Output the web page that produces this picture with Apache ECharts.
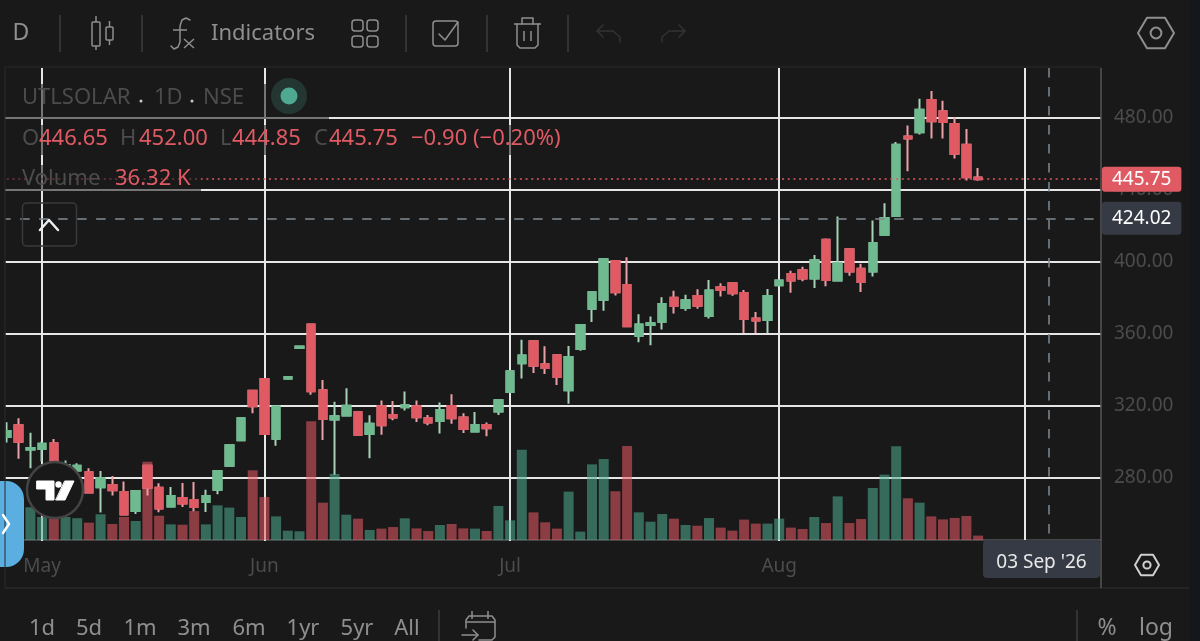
<!DOCTYPE html>
<html>
<head>
    <meta charset="utf-8">
    <title>UTLSOLAR</title>
    <script type="text/javascript" src="https://cdn.jsdelivr.net/npm/echarts@6/dist/echarts.min.js"></script>
    <style>
        html, body { margin: 0; padding: 0; background: #191919; }
    </style>
</head>
<body>

<div id="main" style="width: 1200px;height:641px;"></div>
<script type="text/javascript">
    // trading days, the last ten are the empty space right of the last candle
    var dates = [
        '04-28', '04-29', '04-30',
        '05-04', '05-05', '05-06', '05-07', '05-08', '05-11', '05-12', '05-13', '05-14', '05-15',
        '05-18', '05-19', '05-20', '05-21', '05-22', '05-25', '05-26', '05-28', '05-29',
        '06-01', '06-02', '06-03', '06-04', '06-05', '06-08', '06-09', '06-10', '06-11', '06-12',
        '06-15', '06-16', '06-17', '06-18', '06-19', '06-22', '06-23', '06-24', '06-25', '06-29', '06-30',
        '07-01', '07-02', '07-03', '07-06', '07-07', '07-08', '07-09', '07-10', '07-13', '07-14', '07-15', '07-16', '07-17',
        '07-20', '07-21', '07-22', '07-23', '07-24', '07-27', '07-28', '07-29', '07-30', '07-31',
        '08-03', '08-04', '08-05', '08-06', '08-07', '08-10', '08-11', '08-12', '08-13', '08-14',
        '08-17', '08-18', '08-19', '08-20', '08-21', '08-24', '08-25', '08-26', '08-27', '08-28', '08-31',
        '09-01', '09-02', '09-03', '09-04', '09-07', '09-08', '09-09'
    ];

    var opens = [
        302.7, 309.2, 295.7, 296.1, 299.2, 280.7, 284.1, 283.2, 274.8, 276.1,
        272.2, 261.7, 286.8, 274.6, 264.1, 268.9, 267.8, 266.7, 273.5, 286.8,
        300.9, 328.3, 334.9, 301.8, 335.1, 352.1, 365.1, 328.6, 312.4, 314.6,
        316.4, 304.4, 319.8, 314.9, 319.2, 319.8, 313.1, 311.6, 319.9, 313.5,
        305.7, 309.4, 316.8, 327.7, 343.6, 355.8, 343.1, 348.0, 328.6, 351.6,
        373.8, 378.9, 400.4, 387.1, 358.8, 364.9, 366.7, 380.0, 374.3, 381.0,
        369.9, 385.8, 388.0, 382.6, 368.4, 367.6, 386.9, 393.2, 395.2, 390.6,
        412.2, 389.5, 406.9, 396.1, 394.6, 415.0, 425.3, 469.4, 471.8, 489.7,
        483.4, 476.4, 464.9, 446.65
    ];
    var closes = [
        306.1, 300.0, 296.6, 298.9, 288.1, 287.2, 286.7, 271.9, 279.8, 273.2,
        259.7, 272.8, 274.5, 263.0, 270.0, 265.8, 263.9, 270.0, 283.9, 298.1,
        313.1, 319.8, 304.4, 319.6, 336.0, 352.9, 328.1, 312.7, 314.2, 320.1,
        304.0, 310.0, 309.2, 313.5, 320.3, 313.6, 310.7, 317.7, 313.1, 307.2,
        309.4, 307.5, 323.1, 339.2, 347.9, 342.3, 341.0, 336.0, 347.1, 364.9,
        383.0, 401.3, 383.0, 364.1, 365.1, 365.8, 376.5, 375.4, 378.6, 375.6,
        384.0, 384.3, 382.4, 368.2, 367.3, 381.0, 389.5, 389.5, 390.6, 400.8,
        389.8, 399.1, 394.5, 388.7, 410.4, 424.2, 464.9, 468.4, 484.3, 477.9,
        477.5, 459.9, 446.8, 445.75
    ];
    var lows = [
        299.6, 290.7, 285.4, 289.1, 286.3, 278.9, 280.7, 271.5, 260.8, 270.2,
        259.5, 260.0, 270.2, 261.0, 263.7, 263.9, 261.5, 261.1, 270.9, 286.8,
        300.9, 315.9, 304.4, 297.8, 335.1, 352.1, 326.2, 301.1, 281.7, 314.6,
        304.0, 290.9, 304.0, 312.0, 317.4, 311.0, 309.2, 304.6, 310.0, 304.9,
        305.7, 303.1, 314.9, 327.7, 335.1, 338.2, 337.7, 331.6, 321.2, 350.6,
        366.5, 372.8, 381.2, 364.1, 355.3, 353.6, 362.3, 371.3, 372.8, 373.8,
        368.4, 380.6, 381.1, 360.4, 360.4, 360.4, 386.9, 382.8, 389.1, 385.4,
        386.3, 389.1, 392.2, 383.2, 391.7, 415.0, 425.3, 450.1, 470.5, 468.4,
        468.4, 457.2, 445.0, 444.85
    ];
    var highs = [
        310.9, 313.1, 305.0, 300.2, 301.6, 289.6, 288.2, 285.4, 283.9, 281.1,
        278.0, 273.0, 287.0, 277.0, 275.0, 277.2, 277.8, 273.4, 283.9, 298.1,
        313.1, 328.3, 334.9, 319.6, 336.0, 352.9, 365.1, 334.4, 322.2, 329.7,
        316.4, 314.8, 322.9, 322.7, 327.9, 322.9, 314.9, 321.8, 326.4, 315.9,
        316.6, 310.7, 323.1, 339.2, 356.6, 355.8, 353.0, 348.0, 353.2, 364.9,
        383.0, 401.9, 400.4, 402.4, 370.8, 369.5, 380.2, 383.9, 381.7, 384.7,
        389.8, 388.0, 388.0, 384.3, 372.1, 384.8, 389.5, 395.0, 397.2, 403.7,
        412.8, 425.0, 406.9, 398.9, 422.8, 432.4, 466.4, 475.5, 490.4, 494.7,
        489.3, 480.1, 473.6, 452.0
    ];
    // volume in thousands
    var volumes = [
        150, 200, 270, 190, 180, 190, 180, 143, 212, 132,
        190, 157, 646, 200, 129, 126, 239, 129, 286, 267,
        190, 575, 355, 195, 77, 72, 979, 308, 545, 209,
        176, 83, 94, 107, 179, 96, 74, 124, 132, 96,
        94, 74, 281, 162, 745, 228, 146, 94, 399, 69,
        624, 668, 402, 776, 228, 151, 214, 176, 124, 118,
        181, 102, 77, 168, 135, 135, 176, 102, 91, 190,
        140, 360, 140, 173, 429, 539, 773, 344, 308, 195,
        170, 182, 198, 36.32
    ];

    var monthTicks = { '05-04': 'May', '06-01': 'Jun', '07-01': 'Jul', '08-03': 'Aug' };
    var verticalLines = ['05-04', '06-01', '07-01', '08-03', '09-01'];
    var crosshairDate = '09-03';
    var lastPrice = 445.75;
    var crosshairPrice = 424.02;
    var ranges = ['1d', '5d', '1m', '3m', '6m', '1yr', '5yr', 'All'];
    var rangeX = [42, 89, 140, 194, 249, 303, 357, 407];

    var bg = '#191919';
    var upColor = '#6fba8f';
    var downColor = '#e05a64';
    var upWick = '#a6d2b8';
    var downWick = '#eba0a6';
    var dimText = '#4c4c4c';
    var toolText = '#8f8f8f';
    var tagColor = '#363a45';
    var font = '"Noto Sans", sans-serif';

    // wicks and bodies are two layers so the wick can be paler than the body
    var wicks = opens.map(function (o, i) {
        return [o, closes[i], lows[i], highs[i]];
    });
    var bodies = opens.map(function (o, i) {
        return [o, closes[i], Math.min(o, closes[i]), Math.max(o, closes[i])];
    });
    var volumeBars = volumes.map(function (v, i) {
        return {
            value: v,
            itemStyle: { color: closes[i] >= opens[i] ? 'rgba(78,173,146,0.55)' : 'rgba(233,91,102,0.55)' }
        };
    });
    var verticalMarks = verticalLines.map(function (d) {
        return [{ xAxis: d, yAxis: 507.5 }, { xAxis: d, yAxis: 245 }];
    });

    function text(x, y, str, color, size, align) {
        return {
            type: 'text', x: x, y: y + 1.5, z: 30,
            style: {
                text: str, fill: color, fontSize: size, fontFamily: font,
                align: align || 'left', verticalAlign: 'middle'
            }
        };
    }
    function rect(x, y, w, h, fill, r, stroke) {
        return {
            type: 'rect', z: 20,
            shape: { x: x, y: y, width: w, height: h, r: r || 0 },
            style: { fill: fill, stroke: stroke || null, lineWidth: stroke ? 1.5 : 0 }
        };
    }
    function line(x1, y1, x2, y2, color, width) {
        return {
            type: 'line', z: 25,
            shape: { x1: x1, y1: y1, x2: x2, y2: y2 },
            style: { stroke: color, lineWidth: width || 1.5 }
        };
    }
    function poly(points, color, closed, width, fill) {
        return {
            type: closed ? 'polygon' : 'polyline', z: 25,
            shape: { points: points },
            style: { stroke: color, lineWidth: width || 1.5, fill: fill || null, lineJoin: 'round', lineCap: 'round' }
        };
    }
    function hexagon(cx, cy, r, color) {
        return [
            poly([[cx - r, cy], [cx - r / 2, cy - r * 0.85], [cx + r / 2, cy - r * 0.85],
                [cx + r, cy], [cx + r / 2, cy + r * 0.85], [cx - r / 2, cy + r * 0.85]], color, true, 2),
            { type: 'circle', z: 25, shape: { cx: cx, cy: cy, r: r * 0.3 }, style: { fill: null, stroke: color, lineWidth: 2 } }
        ];
    }

    var chrome = [
        // mask and frame
        rect(0, 60, 5.5, 530, bg),
        rect(1189, 0, 11, 641, '#14171c'),
        line(5, 67, 1101, 67, '#2a2a2a', 1),
        line(5, 67, 5, 588, '#2a2a2a', 1),
        line(5, 588, 1189, 588, '#303030', 1),
        line(1101, 68, 1101, 588, '#555555', 1.5),

        // dark backing behind the legend rows
        rect(6, 84, 323, 35, 'rgba(25,25,25,0.55)'),
        rect(6, 125, 560, 30, 'rgba(25,25,25,0.55)'),
        rect(6, 165, 195, 26, 'rgba(25,25,25,0.55)'),

        // top toolbar
        text(21, 32, 'D', toolText, 23, 'center'),
        line(60, 15, 60, 52, '#3c3c3c'),
        line(142, 15, 142, 52, '#3c3c3c'),
        line(406, 15, 406, 52, '#3c3c3c'),
        line(487, 15, 487, 52, '#3c3c3c'),
        line(568, 15, 568, 52, '#3c3c3c'),
        rect(92, 22, 8, 24, null, 1, toolText),
        line(96, 16, 96, 22, toolText),
        line(96, 46, 96, 50, toolText),
        rect(106, 27, 7, 13, null, 1, toolText),
        line(109.5, 21, 109.5, 27, toolText),
        line(109.5, 40, 109.5, 45, toolText),
        // fx glyph
        poly([[190, 20], [186, 18], [182, 20], [180, 26], [180, 42], [178, 47], [174, 49], [171, 46]], toolText),
        line(173, 30, 187, 30, toolText),
        line(184, 39, 194, 48, toolText),
        line(194, 39, 184, 48, toolText),
        text(211, 32, 'Indicators', toolText, 22),
        rect(352, 20, 11, 11, null, 3, toolText),
        rect(367, 20, 11, 11, null, 3, toolText),
        rect(352, 36, 11, 11, null, 3, toolText),
        rect(367, 36, 11, 11, null, 3, toolText),
        rect(433, 21, 25, 25, null, 3, toolText),
        poly([[439, 34], [445, 40], [458, 22]], toolText),
        line(514, 24, 541, 24, toolText),
        poly([[522, 24], [522, 18], [533, 18], [533, 24]], toolText),
        poly([[517, 24], [517, 45], [520, 48], [535, 48], [538, 45], [538, 24]], toolText),
        line(524, 31, 524, 41, toolText),
        line(531, 31, 531, 41, toolText),
        poly([[603, 25], [597, 31], [603, 37]], '#333333'),
        poly([[597, 31], [613, 31], [620, 37], [620, 42]], '#333333'),
        poly([[679, 25], [685, 31], [679, 37]], '#333333'),
        poly([[685, 31], [669, 31], [662, 37], [662, 42]], '#333333')
    ].concat(hexagon(1156, 33, 18, toolText), hexagon(1147, 565, 12, '#d0d0d0'), [

        // legend
        text(22, 96, 'UTLSOLAR', dimText, 22),
        { type: 'circle', z: 25, shape: { cx: 141, cy: 101, r: 1.5 }, style: { fill: '#cccccc' } },
        text(154, 96, '1D', dimText, 22),
        { type: 'circle', z: 25, shape: { cx: 192, cy: 101, r: 1.5 }, style: { fill: '#cccccc' } },
        text(203, 96, 'NSE', dimText, 22),
        { type: 'circle', z: 25, shape: { cx: 289, cy: 96, r: 18 }, style: { fill: 'rgba(79,168,146,0.2)' } },
        { type: 'circle', z: 26, shape: { cx: 289, cy: 96, r: 8.5 }, style: { fill: '#4fa892' } },
        text(22, 137, 'O', dimText, 22),
        text(39, 137, '446.65', downColor, 22),
        text(120, 137, 'H', dimText, 22),
        text(139, 137, '452.00', downColor, 22),
        text(220, 137, 'L', dimText, 22),
        text(232, 137, '444.85', downColor, 22),
        text(314, 137, 'C', dimText, 22),
        text(329, 137, '445.75', downColor, 22),
        text(411, 137, '\u22120.90 (\u22120.20%)', downColor, 22),
        text(22, 177, 'Volume', dimText, 22),
        text(115, 177, '36.32 K', downColor, 22),
        rect(22.5, 203, 54, 43, null, 4, '#3a3a3a'),
        poly([[40, 230], [49, 220], [58, 230]], '#eeeeee', false, 2.5),

        // logo and blue tab
        rect(0, 481, 24, 86, '#5aaee0', [0, 18, 18, 0]),
        poly([[3, 515], [9, 524], [3, 533]], '#ffffff', false, 2.5),
        { type: 'circle', z: 22, shape: { cx: 55, cy: 490, r: 28 }, style: { fill: bg, stroke: '#444444', lineWidth: 2.5 } },
        poly([[37, 481], [54, 481], [54, 500], [46, 500], [46, 489], [37, 489]], '#ffffff', true, 1, '#ffffff'),
        { type: 'circle', z: 25, shape: { cx: 58.5, cy: 484.5, r: 3.2 }, style: { fill: '#ffffff' } },
        poly([[65, 481], [74, 481], [65, 500], [56, 500]], '#ffffff', true, 1, '#ffffff'),

        // crosshair date tag
        rect(983, 540, 117, 38, tagColor, 4),
        text(1041.5, 561, "03 Sep '26", '#e8e8e8', 19, 'center'),

        // bottom bar
        line(439, 610, 439, 641, '#3c3c3c'),
        poly([[466, 628], [466, 620], [469, 616], [492, 616], [495, 620], [495, 637], [492, 640], [479, 640]], toolText),
        line(466, 622, 495, 622, toolText),
        line(472, 611, 472, 619, toolText),
        line(488, 611, 488, 619, toolText),
        poly([[462, 635], [478, 635]], toolText),
        poly([[473, 630], [478, 635], [473, 640]], toolText),
        line(1077, 610, 1077, 641, '#3c3c3c'),
        text(1107, 627, '%', toolText, 23, 'center'),
        text(1156, 627, 'log', toolText, 23, 'center')
    ]);
    ranges.forEach(function (r, i) {
        chrome.push(text(rangeX[i], 627, r, toolText, 22, 'center'));
    });

    var myChart = echarts.init(document.getElementById('main'), null, { renderer: 'canvas' });

    var option = {
        animation: false,
        backgroundColor: bg,
        textStyle: { fontFamily: font },
        graphic: chrome,
        grid: [
            { left: 1.15, width: 1099.8, top: 45.4, bottom: 91 },
            { left: 1.15, width: 1099.8, top: 420, bottom: 101 }
        ],
        xAxis: [
            {
                type: 'category', gridIndex: 0, data: dates,
                axisLine: { show: false }, axisTick: { show: false },
                axisLabel: { show: false }, splitLine: { show: false }
            },
            {
                type: 'category', gridIndex: 1, data: dates,
                axisLine: { show: true, lineStyle: { color: '#555555', width: 1.5 } },
                axisTick: { show: false },
                splitLine: { show: false },
                axisLabel: {
                    color: dimText, fontSize: 19, margin: 17, fontFamily: font,
                    interval: function (i, d) { return !!monthTicks[d]; },
                    formatter: function (d) { return monthTicks[d]; }
                }
            }
        ],
        yAxis: [
            {
                type: 'value', gridIndex: 0, position: 'right',
                min: 240, max: 520, interval: 40,
                axisLine: { show: false }, axisTick: { show: false },
                axisLabel: {
                    color: dimText, fontSize: 19, margin: 13, fontFamily: font,
                    padding: [3, 0, 0, 0],
                    showMinLabel: false, showMaxLabel: false,
                    formatter: function (v) { return v.toFixed(2); }
                },
                splitLine: {
                    show: true, showMinLine: false, showMaxLine: false,
                    lineStyle: { color: '#e6e6e6', width: 2 }
                }
            },
            {
                type: 'value', gridIndex: 1, min: 0, max: 990,
                axisLine: { show: false }, axisTick: { show: false },
                axisLabel: { show: false }, splitLine: { show: false }
            }
        ],
        series: [
            {
                // vertical month lines
                type: 'line', xAxisIndex: 0, yAxisIndex: 0, data: [], z: 1,
                markLine: {
                    silent: true, symbol: 'none', z: 1, label: { show: false },
                    lineStyle: { color: '#e6e6e6', width: 2, type: 'solid' },
                    data: verticalMarks
                }
            },
            {
                name: 'Volume', type: 'bar', xAxisIndex: 1, yAxisIndex: 1,
                data: volumeBars, barWidth: 10, z: 3
            },
            {
                name: 'Wicks', type: 'candlestick', xAxisIndex: 0, yAxisIndex: 0,
                data: wicks, barWidth: 8, z: 4,
                itemStyle: {
                    color: upColor, color0: downColor,
                    borderColor: upWick, borderColor0: downWick, borderWidth: 2
                }
            },
            {
                name: 'UTLSOLAR', type: 'candlestick', xAxisIndex: 0, yAxisIndex: 0,
                data: bodies, barWidth: 8, z: 4,
                itemStyle: {
                    color: upColor, color0: downColor,
                    borderColor: upColor, borderColor0: downColor, borderWidth: 2
                }
            },
            {
                // last price and crosshair lines with their axis tags
                type: 'line', xAxisIndex: 0, yAxisIndex: 0, data: [], z: 5,
                markLine: {
                    silent: true, symbol: 'none', z: 6,
                    data: [
                        {
                            yAxis: lastPrice,
                            lineStyle: { color: downColor, type: [2, 3.7], width: 1.5 },
                            label: {
                                show: true, position: 'end', distance: 1, formatter: lastPrice.toFixed(2),
                                color: '#ffffff', fontSize: 19, fontFamily: font,
                                backgroundColor: downColor, padding: [3, 10], borderRadius: 3
                            }
                        },
                        {
                            yAxis: crosshairPrice,
                            lineStyle: { color: '#7f8a94', type: [9.5, 9.5], width: 1.5 },
                            label: {
                                show: true, position: 'end', distance: 1, formatter: crosshairPrice.toFixed(2),
                                color: '#ffffff', fontSize: 19, fontFamily: font,
                                backgroundColor: tagColor, padding: [7, 10], borderRadius: 3
                            }
                        },
                        [
                            { xAxis: crosshairDate, yAxis: 507.5, lineStyle: { color: '#7f8a94', type: [9.5, 9.5], width: 1.5 }, label: { show: false } },
                            { xAxis: crosshairDate, yAxis: 245 }
                        ]
                    ]
                }
            }
        ]
    };

    myChart.setOption(option);
</script>


</body>
</html>
